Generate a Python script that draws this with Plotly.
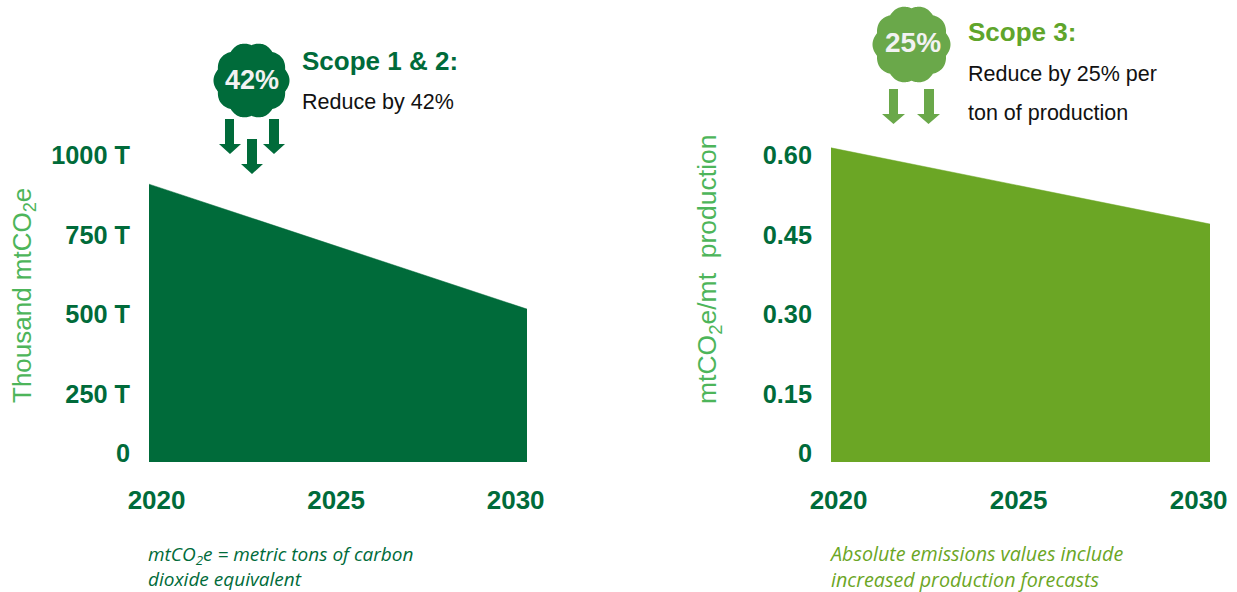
import math
import plotly.graph_objects as go

years = [2020, 2030]
scope12_values = [905, 498]
scope3_values = [0.614, 0.465]

x_tick_positions_left = [2020.2, 2024.95, 2029.7]
x_tick_positions_right = [2020.2, 2024.95, 2029.7]
x_tick_labels = ["2020", "2025", "2030"]

left_tick_positions = [29, 222, 482, 739, 1000]
left_tick_labels = ["0", "250 T", "500 T", "750 T", "1000 T"]
right_tick_positions = [0.0176, 0.133, 0.288, 0.444, 0.6]
right_tick_labels = ["0", "0.15", "0.30", "0.45", "0.60"]

DARK = "#006B3A"
LIGHT = "#6BA625"
CLOUD_LIGHT = "#6AA84A"
TITLE_GREEN = "#4DB55A"
FONT = "Liberation Sans"
W, H = 1237, 592


def px(x):
    return x / W


def py(y):
    return 1 - y / H


fig = go.Figure()
fig.add_trace(go.Scatter(x=years, y=scope12_values, mode="lines", fill="tozeroy",
                         fillcolor=DARK, line=dict(color=DARK, width=0.5),
                         hoverinfo="skip", showlegend=False, xaxis="x", yaxis="y"))
fig.add_trace(go.Scatter(x=years, y=scope3_values, mode="lines", fill="tozeroy",
                         fillcolor=LIGHT, line=dict(color=LIGHT, width=0.5),
                         hoverinfo="skip", showlegend=False, xaxis="x2", yaxis="y2"))

y_dom = [py(462), py(140)]
x_common = dict(range=[2020, 2030], tickmode="array", ticktext=x_tick_labels,
                showgrid=False, zeroline=False, showline=False, ticks="",
                ticklabelstandoff=20, automargin=False,
                tickfont=dict(size=26, color=DARK, family=FONT, weight="bold"))
y_common = dict(tickmode="array", showgrid=False, zeroline=False, showline=False,
                ticks="", ticklabelstandoff=18, domain=y_dom, automargin=False,
                tickfont=dict(size=25.3, color=DARK, family=FONT, weight="bold"))

fig.update_layout(
    width=W, height=H, margin=dict(l=0, r=0, t=0, b=0),
    paper_bgcolor="white", plot_bgcolor="white",
    font=dict(family=FONT),
    xaxis=dict(domain=[px(149), px(527)], tickvals=x_tick_positions_left,
               anchor="y", **x_common),
    xaxis2=dict(domain=[px(831), px(1210)], tickvals=x_tick_positions_right,
                anchor="y2", **x_common),
    yaxis=dict(range=[0, 322 / 0.307], tickvals=left_tick_positions, ticktext=left_tick_labels,
               anchor="x", **y_common),
    yaxis2=dict(range=[0, 322 / 511.7], tickvals=right_tick_positions, ticktext=right_tick_labels,
                anchor="x2", **y_common),
)


def note(x, y, text, size, color, bold=False, italic=False, family=FONT, anchor="left", angle=0):
    fig.add_annotation(xref="paper", yref="paper", x=px(x), y=py(y), text=text, showarrow=False,
                       xanchor=anchor, yanchor="middle", textangle=angle, align="left",
                       font=dict(size=size, color=color, family=family,
                                 weight="bold" if bold else "normal",
                                 style="italic" if italic else "normal"))


def cloud(cx, cy, R, color):
    pts = []
    for i in range(240):
        t = 2 * math.pi * i / 240
        r = R * (0.93 + 0.07 * abs(math.cos(5 * t)))
        pts.append((cx + r * math.cos(t), cy + r * math.sin(t)))
    path = "M " + " L ".join(f"{px(a):.5f},{py(b):.5f}" for a, b in pts) + " Z"
    fig.add_shape(type="path", xref="paper", yref="paper", path=path,
                  fillcolor=color, line=dict(width=0))


def arrow(sl, sr, hl, hr, top, neck, tip, color):
    xm = (hl + hr) / 2
    p = [(sl, top), (sr, top), (sr, neck), (hr, neck), (xm, tip), (hl, neck), (sl, neck)]
    path = "M " + " L ".join(f"{px(a):.5f},{py(b):.5f}" for a, b in p) + " Z"
    fig.add_shape(type="path", xref="paper", yref="paper", path=path,
                  fillcolor=color, line=dict(width=0))


cloud(251.5, 80.5, 38, DARK)
cloud(911.5, 44.5, 39, CLOUD_LIGHT)
arrow(225, 234, 219, 241, 119, 144, 154, DARK)
arrow(269, 279, 263, 285, 119, 144, 154, DARK)
arrow(247, 257, 241, 263, 139, 164, 174, DARK)
arrow(889, 898, 882, 905, 89, 114, 124, CLOUD_LIGHT)
arrow(924, 934, 917, 940, 89, 114, 124, CLOUD_LIGHT)

note(252, 80, "42%", 27, "#F2F2F2", bold=True, anchor="center")
note(913, 43, "25%", 28, "#F2F2F2", bold=True, anchor="center")
note(300, 61, "Scope 1 & 2:", 26, DARK, bold=True)
note(300, 102, "Reduce by 42%", 21.5, "#111111")
note(966, 32, "Scope 3:", 26, "#5FA52B", bold=True)
note(966, 74, "Reduce by 25% per", 21.5, "#111111")
note(966, 113, "ton of production", 21.5, "#111111")

note(23, 296, "Thousand mtCO<sub>2</sub>e", 26, TITLE_GREEN, anchor="center", angle=-90)
note(709, 269, "mtCO<sub>2</sub>e/mt  production", 26.5, TITLE_GREEN, anchor="center", angle=-90)

note(146, 566, "mtCO<sub>2</sub>e = metric tons of carbon<br>dioxide equivalent", 19, DARK,
     italic=True, family="Open Sans")
note(827, 566, "Absolute emissions values include<br>increased production forecasts", 19.7, LIGHT,
     italic=True, family="Open Sans")

fig.write_html("out.html", config=dict(displayModeBar=False),
               post_script="document.body.style.margin='0';document.documentElement.style.overflow='hidden';")
